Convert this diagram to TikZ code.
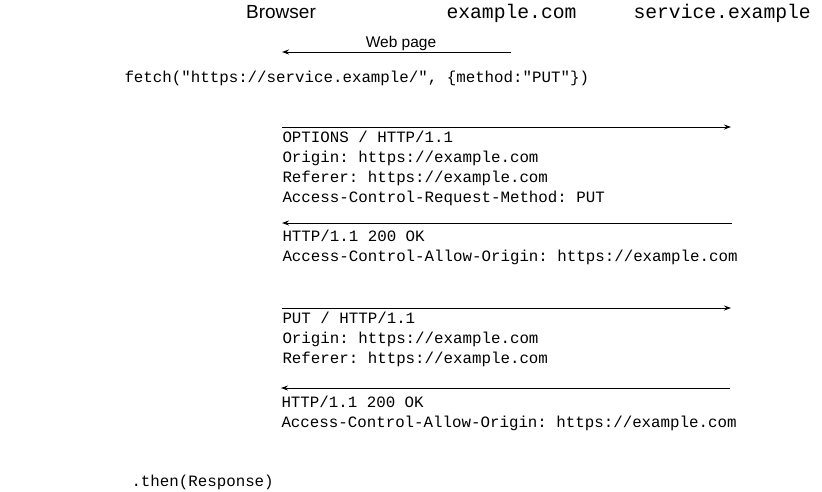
\documentclass[tikz,border=0pt]{standalone}
\usepackage{fontspec}
\setmainfont{Liberation Sans}
\setmonofont{Liberation Mono}
\usetikzlibrary{arrows.meta}
\begin{document}
\begin{tikzpicture}[x=1pt, y=-1pt, line width=1pt, >={Stealth[length=7pt,width=5pt]}]
    \tikzstyle{head_style} = [inner sep=0, anchor=base west, font=\fontsize{19.7}{24}\selectfont\ttfamily]
    \tikzstyle{msg_style} = [inner sep=0, anchor=base west, align=left, font=\fontsize{15.8}{19.7}\selectfont\ttfamily]
    \tikzstyle{edge_style} = [draw=black, ->]
    \useasboundingbox (0,0) rectangle (822,491);
    % column heads
    \node[inner sep=0, anchor=base, font=\fontsize{19}{24}\selectfont] (browser) at (281,18) {Browser};
    \node[head_style] (site) at (446,18) {example.com};
    \node[head_style] (service) at (633,18) {service.example};
    % page load
    \coordinate (p0) at (511,52);
    \coordinate (p1) at (282,52);
    \draw[edge_style] (p0) -- (p1);
    \node[inner sep=0, anchor=base, font=\fontsize{15.5}{19}\selectfont] (page) at (401,47) {Web page};
    \node[msg_style] (fetch) at (124,82) {fetch("https://service.example/", \{method:"PUT"\})};
    % preflight
    \coordinate (a0) at (282,127);
    \coordinate (a1) at (731,127);
    \draw[edge_style] (a0) -- (a1);
    \node[msg_style] (m1) at (282,202) {OPTIONS / HTTP/1.1\\Origin: https://example.com\\Referer: https://example.com\\Access-Control-Request-Method: PUT};
    \coordinate (b0) at (732,223);
    \coordinate (b1) at (282,223);
    \draw[edge_style] (b0) -- (b1);
    \node[msg_style] (m2) at (282,261) {HTTP/1.1 200 OK\\Access-Control-Allow-Origin: https://example.com};
    % actual request
    \coordinate (c0) at (282,308);
    \coordinate (c1) at (731,308);
    \draw[edge_style] (c0) -- (c1);
    \node[msg_style] (m3) at (282,363) {PUT / HTTP/1.1\\Origin: https://example.com\\Referer: https://example.com};
    \coordinate (d0) at (730,388);
    \coordinate (d1) at (281,388);
    \draw[edge_style] (d0) -- (d1);
    \node[msg_style] (m4) at (281,427) {HTTP/1.1 200 OK\\Access-Control-Allow-Origin: https://example.com};
    \node[msg_style] (then) at (131,486) {.then(Response)};
\end{tikzpicture}
\end{document}
